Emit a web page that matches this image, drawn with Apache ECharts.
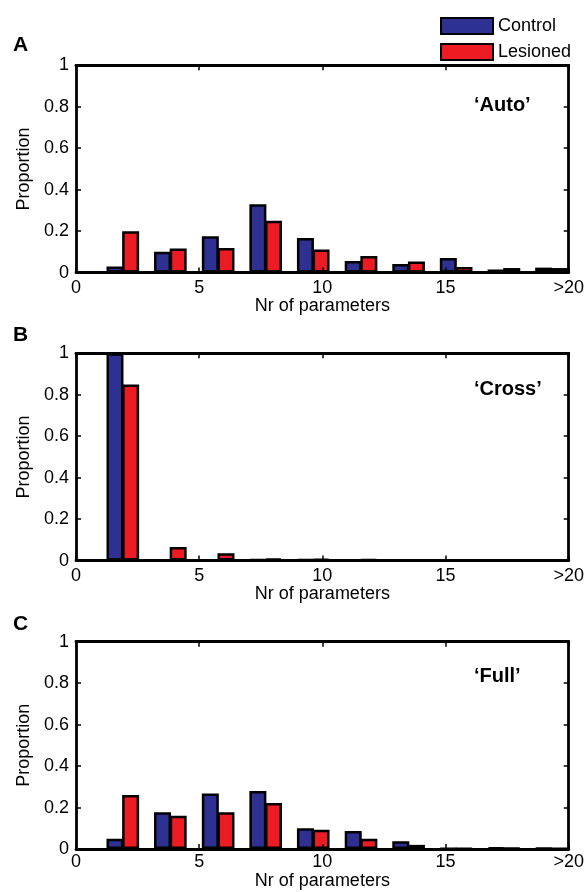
<!DOCTYPE html>
<html>
<head>
<meta charset="utf-8">
<script src="https://cdn.jsdelivr.net/npm/echarts@6/dist/echarts.min.js"></script>
<style>
  html, body { margin: 0; padding: 0; background: #fff; }
  #chart { width: 587px; height: 892px; }
</style>
</head>
<body>
<div id="chart"></div>
<script>
// bin centres (Nr of parameters), last bin is ">20"
const binCenters = [1.9, 3.83, 5.77, 7.7, 9.63, 11.57, 13.5, 15.43, 17.37, 19.3];
const xTicks = [0, 5, 10, 15, 20];

const autoControl  = [0.03, 0.10, 0.175, 0.33, 0.167, 0.056, 0.042, 0.071, 0.015, 0.024];
const autoLesioned = [0.20, 0.116, 0.119, 0.25, 0.111, 0.08, 0.053, 0.027, 0.022, 0.022];

const crossControl  = [1.0, 0, 0, 0.005, 0.006, 0.004, 0.002, 0.001, 0.002, 0.002];
const crossLesioned = [0.85, 0.066, 0.035, 0.01, 0.008, 0.006, 0.003, 0.002, 0.003, 0.003];

const fullControl  = [0.05, 0.177, 0.268, 0.28, 0.10, 0.087, 0.037, 0.003, 0.008, 0.005];
const fullLesioned = [0.26, 0.16, 0.177, 0.222, 0.093, 0.05, 0.02, 0.003, 0.004, 0.003];

const panels = [
  { letter: 'A', label: '\u2018Auto\u2019',  control: autoControl,  lesioned: autoLesioned,  top: 65.3,  tickMargin: 6, nameGap: 24 },
  { letter: 'B', label: '\u2018Cross\u2019', control: crossControl, lesioned: crossLesioned, top: 353.3, tickMargin: 6, nameGap: 23 },
  { letter: 'C', label: '\u2018Full\u2019',  control: fullControl,  lesioned: fullLesioned,  top: 641.7, tickMargin: 4, nameGap: 19 }
];
const labelOffsets = [{ letter: 35, label: 95 }, { letter: 325, label: 379 }, { letter: 614, label: 666 }];

const FONT = 'Liberation Sans, Arial, sans-serif';
const BLUE = '#2e3192';
const RED = '#ed1c24';

const chart = echarts.init(document.getElementById('chart'), null, { renderer: 'canvas' });

const grid = [], xAxis = [], yAxis = [], series = [], graphic = [];

panels.forEach((p, i) => {
  grid.push({ left: 76, right: 12.5, top: p.top, height: 207.3 });
  const axisLine = { show: true, onZero: false, lineStyle: { color: '#000', width: 2.8 } };
  const tick = { show: true, inside: true, length: 5, lineStyle: { color: '#000', width: 1.5 } };
  xAxis.push({
    type: 'value', gridIndex: i, min: 0, max: 20, interval: 5, position: 'bottom', z: 5,
    axisLine, axisTick: tick, splitLine: { show: false },
    axisLabel: {
      color: '#000', fontFamily: FONT, fontSize: 18, margin: p.tickMargin,
      formatter: v => v === 20 ? '>20' : String(v)
    },
    name: 'Nr of parameters', nameLocation: 'middle', nameGap: p.nameGap,
    nameTextStyle: { color: '#000', fontFamily: FONT, fontSize: 18, verticalAlign: 'top' }
  });
  xAxis.push({
    type: 'value', gridIndex: i, min: 0, max: 20, interval: 5, position: 'top', z: 5,
    axisLine, axisTick: tick, axisLabel: { show: false }, splitLine: { show: false }
  });
  yAxis.push({
    type: 'value', gridIndex: i, min: 0, max: 1, interval: 0.2, position: 'left', z: 5,
    axisLine, axisTick: tick, splitLine: { show: false },
    axisLabel: { color: '#000', fontFamily: FONT, fontSize: 18, margin: 7 },
    name: 'Proportion', nameLocation: 'middle', nameGap: 39,
    nameTextStyle: { color: '#000', fontFamily: FONT, fontSize: 18 }
  });
  yAxis.push({
    type: 'value', gridIndex: i, min: 0, max: 1, interval: 0.2, position: 'right', z: 5,
    axisLine, axisTick: tick, axisLabel: { show: false }, splitLine: { show: false }
  });

  const barStyle = color => ({ color, borderColor: '#000', borderWidth: 2.5 });
  series.push({
    name: 'Control', type: 'bar', xAxisIndex: 2 * i, yAxisIndex: 2 * i,
    data: binCenters.map((c, k) => [c, p.control[k]]),
    barWidth: 17, barGap: '-8%', itemStyle: barStyle(BLUE), z: 2
  });
  series.push({
    name: 'Lesioned', type: 'bar', xAxisIndex: 2 * i, yAxisIndex: 2 * i,
    data: binCenters.map((c, k) => [c, p.lesioned[k]]),
    barWidth: 17, barGap: '-8%', itemStyle: barStyle(RED), z: 2
  });

  graphic.push({
    type: 'text', left: 13, top: labelOffsets[i].letter,
    style: { text: p.letter, font: 'bold 21px ' + FONT, fill: '#000' }
  });
  graphic.push({
    type: 'text', left: 474, top: labelOffsets[i].label,
    style: { text: p.label, font: 'bold 20px ' + FONT, fill: '#000' }
  });
});

chart.setOption({
  animation: false,
  backgroundColor: '#fff',
  legend: {
    data: ['Control', 'Lesioned'],
    orient: 'vertical', left: 435, top: 12,
    itemWidth: 52, itemHeight: 16, itemGap: 8,
    icon: 'rect',
    textStyle: { color: '#000', fontFamily: FONT, fontSize: 18 }
  },
  grid, xAxis, yAxis, series, graphic
});
</script>
</body>
</html>
